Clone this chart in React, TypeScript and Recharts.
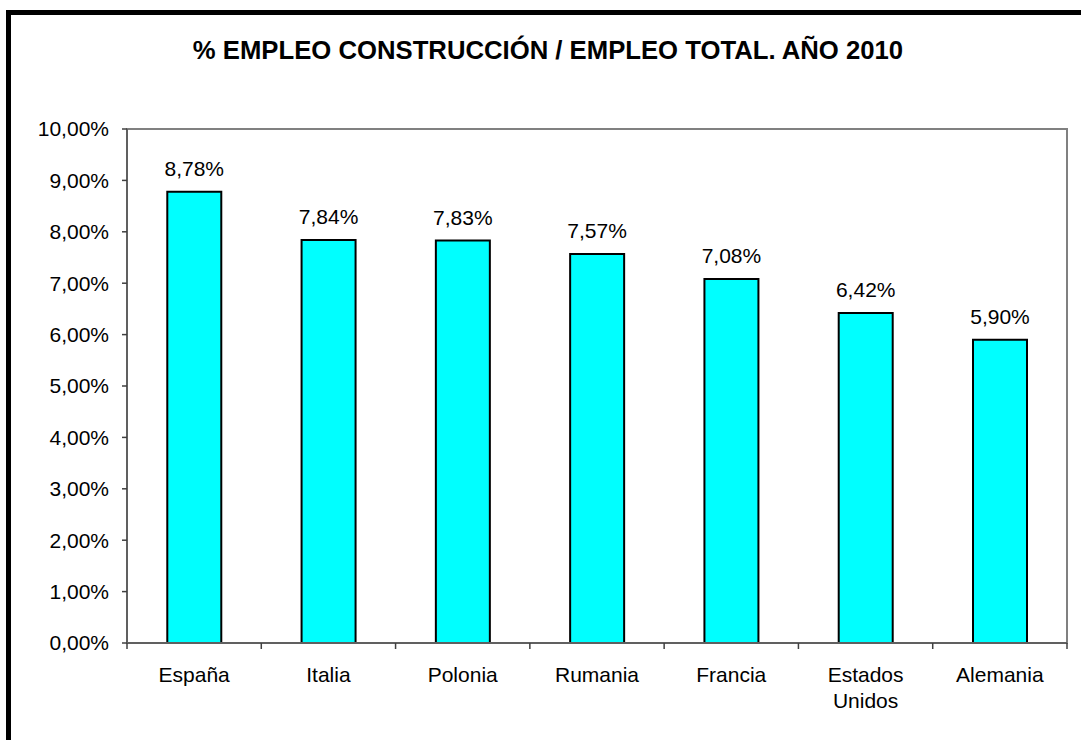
import React from 'react';
import { BarChart, Bar, XAxis, YAxis, ReferenceArea, LabelList } from 'recharts';

const countries = ['España', 'Italia', 'Polonia', 'Rumania', 'Francia', 'Estados Unidos', 'Alemania'];
const shares = [8.78, 7.84, 7.83, 7.57, 7.08, 6.42, 5.9];
const yTicks = [0, 1, 2, 3, 4, 5, 6, 7, 8, 9, 10];

const data = countries.map((country, i) => ({ country, share: shares[i] }));

const FONT = 'Arial, "Liberation Sans", sans-serif';
const pct = (v: number) => `${Number(v).toFixed(2).replace('.', ',')}%`;

const CountryTick = (props: any) => {
  const { x, y, payload, index, visibleTicksCount } = props;
  const half = payload.offset ?? 0;
  const lines = String(payload.value).split(' ');
  return (
    <g>
      <line x1={x - half} x2={x - half} y1={y} y2={y + 6} stroke="#404040" strokeWidth={1.5} />
      {index === visibleTicksCount - 1 && (
        <line x1={x + half} x2={x + half} y1={y} y2={y + 6} stroke="#404040" strokeWidth={1.5} />
      )}
      <text x={x} y={y + 39} textAnchor="middle" fontSize={21} fontFamily={FONT} fill="#000">
        {lines.map((l, i) => (
          <tspan key={i} x={x} dy={i === 0 ? 0 : 26}>
            {l}
          </tspan>
        ))}
      </text>
    </g>
  );
};

const App = () => {
  return (
    <div
      style={{
        position: 'absolute',
        left: 0,
        top: 0,
        width: 1081,
        height: 740,
        overflow: 'hidden',
        background: '#fff',
        fontFamily: FONT,
      }}
    >
      <div
        style={{
          position: 'absolute',
          left: 6,
          top: 10,
          width: 1120,
          height: 780,
          border: '5px solid #000',
        }}
      />
      <div
        style={{
          position: 'absolute',
          left: 0,
          top: 36,
          width: 1096,
          textAlign: 'center',
          fontWeight: 'bold',
          fontSize: 25.7,
          color: '#000',
          whiteSpace: 'nowrap',
        }}
      >
        % EMPLEO CONSTRUCCIÓN / EMPLEO TOTAL. AÑO 2010
      </div>
      <div style={{ position: 'absolute', left: 0, top: 0 }}>
        <BarChart
          width={1081}
          height={740}
          data={data}
          margin={{ top: 129, right: 14, left: 0, bottom: 0 }}
          barCategoryGap="30%"
        >
          <ReferenceArea y1={0} y2={10} fill="none" stroke="#808080" strokeWidth={2} ifOverflow="visible" />
          <XAxis
            dataKey="country"
            height={97}
            interval={0}
            tickLine={false}
            tickSize={0}
            tickMargin={0}
            axisLine={{ stroke: '#606060', strokeWidth: 2 }}
            tick={<CountryTick />}
          />
          <YAxis
            width={127}
            domain={[0, 10]}
            ticks={yTicks}
            interval={0}
            tickFormatter={pct}
            tickSize={5}
            tickMargin={13}
            tickLine={{ stroke: '#404040', strokeWidth: 1.5 }}
            axisLine={{ stroke: '#606060', strokeWidth: 2 }}
            tick={{ fontSize: 21, fontFamily: FONT, fill: '#000' }}
          />
          <Bar dataKey="share" fill="#00FFFF" stroke="#000" strokeWidth={2} isAnimationActive={false}>
            <LabelList
              dataKey="share"
              position="top"
              offset={16}
              formatter={(v: any) => pct(v)}
              style={{ fontSize: 21, fontFamily: FONT, fill: '#000' }}
            />
          </Bar>
        </BarChart>
      </div>
    </div>
  );
};

export default App;
